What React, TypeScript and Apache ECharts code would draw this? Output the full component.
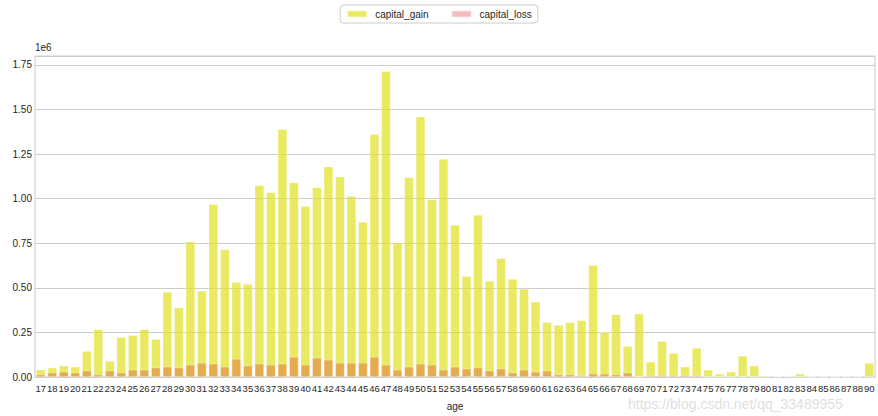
import React, { useEffect, useRef } from "react";
import * as echarts from "echarts";

const ages: string[] = [
  "17","18","19","20","21","22","23","24","25","26","27","28","29","30","31","32","33","34","35","36",
  "37","38","39","40","41","42","43","44","45","46","47","48","49","50","51","52","53","54","55","56",
  "57","58","59","60","61","62","63","64","65","66","67","68","69","70","71","72","73","74","75","76",
  "77","78","79","80","81","82","83","84","85","86","87","88","90",
];

// values in units of 1e6
const capitalGain: number[] = [
  0.040, 0.052, 0.063, 0.057, 0.145, 0.267, 0.090, 0.223, 0.234, 0.267, 0.212, 0.477, 0.389, 0.759, 0.482, 0.969, 0.715, 0.532, 0.521, 1.074,
  1.035, 1.389, 1.090, 0.958, 1.063, 1.179, 1.123, 1.013, 0.869, 1.361, 1.715, 0.753, 1.118, 1.460, 0.996, 1.223, 0.853, 0.565, 0.908, 0.538,
  0.665, 0.549, 0.494, 0.422, 0.306, 0.291, 0.306, 0.317, 0.626, 0.250, 0.350, 0.173, 0.355, 0.085, 0.200, 0.134, 0.057, 0.162, 0.040, 0.018,
  0.029, 0.118, 0.063, 0.007, 0.002, 0.002, 0.018, 0, 0, 0, 0, 0, 0.079,
];

const capitalLoss: number[] = [
  0.013, 0.024, 0.029, 0.024, 0.035, 0.013, 0.035, 0.024, 0.040, 0.040, 0.052, 0.057, 0.052, 0.068, 0.079, 0.074, 0.057, 0.101, 0.063, 0.074,
  0.068, 0.074, 0.112, 0.068, 0.107, 0.096, 0.079, 0.079, 0.079, 0.112, 0.068, 0.040, 0.057, 0.074, 0.068, 0.040, 0.057, 0.046, 0.052, 0.035,
  0.046, 0.024, 0.040, 0.029, 0.035, 0.013, 0.013, 0.007, 0.018, 0.018, 0.013, 0.024, 0, 0.007, 0.007, 0.007, 0.007, 0.007, 0, 0,
  0, 0, 0, 0.002, 0.003, 0.003, 0, 0, 0, 0, 0, 0, 0,
];

const yTicks: number[] = [0, 0.25, 0.5, 0.75, 1.0, 1.25, 1.5, 1.75];

export default function App() {
  const ref = useRef<HTMLDivElement>(null);
  useEffect(() => {
    if (!ref.current) return;
    const chart = echarts.init(ref.current, null, { renderer: "svg" });
    const font = "Liberation Sans, Arial, sans-serif";
    chart.setOption({
      animation: false,
      textStyle: { fontFamily: font },
      legend: {
        top: 5,
        left: "center",
        icon: "rect",
        itemWidth: 20,
        itemHeight: 7,
        itemGap: 22,
        padding: [4, 6, 4, 6],
        borderColor: "#cccccc",
        borderWidth: 1,
        borderRadius: 3,
        textStyle: { fontSize: 10, color: "#262626", fontFamily: font, padding: [0, 0, 0, 3] },
        data: ["capital_gain", "capital_loss"],
      },
      grid: {
        left: 35,
        right: 3,
        top: 56,
        bottom: 36,
        show: true,
        borderColor: "#cccccc",
        borderWidth: 1,
      },
      xAxis: {
        type: "category",
        data: ages,
        name: "age",
        nameLocation: "middle",
        nameGap: 24,
        nameTextStyle: { fontSize: 10, color: "#262626" },
        axisLine: { show: true, lineStyle: { color: "#cccccc" } },
        axisTick: { show: false },
        axisLabel: { interval: 0, fontSize: 9.5, color: "#262626", margin: 6 },
        splitLine: { show: false },
      },
      yAxis: {
        type: "value",
        min: 0,
        max: 1.8,
        interval: 0.25,
        axisLine: { show: false },
        axisTick: { show: false },
        axisLabel: {
          fontSize: 10,
          color: "#262626",
          margin: 3,
          showMaxLabel: false,
          formatter: (v: number) => {
            const hit = yTicks.find((t) => Math.abs(t - v) < 1e-9);
            return hit === undefined ? "" : hit.toFixed(2);
          },
        },
        splitLine: { show: true, lineStyle: { color: "#cccccc", width: 1 } },
      },
      graphic: [
        {
          type: "text",
          left: 35,
          top: 42,
          style: { text: "1e6", fontSize: 10, fill: "#262626", fontFamily: font },
        },
        {
          type: "text",
          left: 628,
          top: 397,
          z: 100,
          style: {
            text: "https://blog.csdn.net/qq_33489955",
            fontSize: 14,
            fill: "rgba(190,190,190,0.5)",
            fontFamily: font,
          },
        },
      ],
      series: [
        {
          name: "capital_gain",
          type: "bar",
          data: capitalGain,
          barCategoryGap: "20%",
          barGap: "-100%",
          itemStyle: { color: "rgba(223,223,32,0.7)", borderColor: "rgba(255,255,255,0.6)", borderWidth: 0.5 },
        },
        {
          name: "capital_loss",
          type: "bar",
          data: capitalLoss,
          barCategoryGap: "20%",
          barGap: "-100%",
          itemStyle: { color: "rgba(223,32,32,0.3)", borderColor: "rgba(255,255,255,0.6)", borderWidth: 0.5 },
        },
      ],
    });
    return () => chart.dispose();
  }, []);
  return (
    <div
      ref={ref}
      style={{ position: "absolute", left: 0, top: 0, width: 878, height: 416 }}
    />
  );
}
